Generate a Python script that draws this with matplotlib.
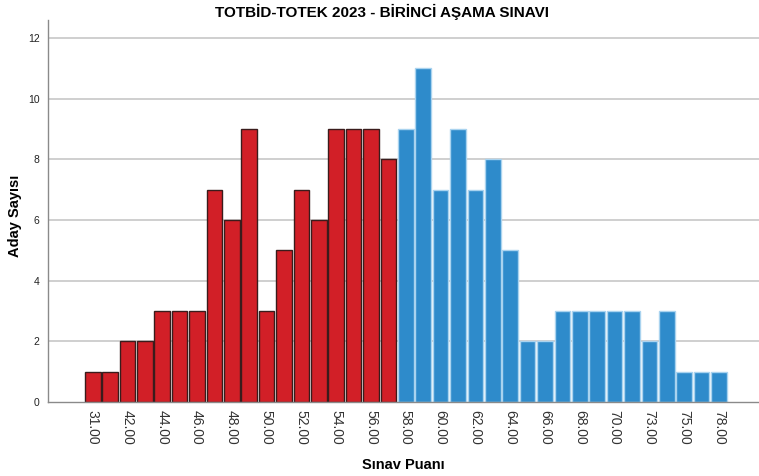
import matplotlib.pyplot as plt
import numpy as np

plt.rcParams['font.family'] = ['Liberation Sans', 'DejaVu Sans']

# aday sayilari (kirmizi: 58 alti, mavi: 58 ve ustu)
kirmizi_sayilar = [1, 1, 2, 2, 3, 3, 3, 7, 6, 9, 3, 5, 7, 6, 9, 9, 9, 8]
mavi_sayilar = [9, 11, 7, 9, 7, 8, 5, 2, 2, 3, 3, 3, 3, 3, 2, 3, 1, 1, 1]
etiketler = ["31.00", "42.00", "44.00", "46.00", "48.00", "50.00", "52.00",
             "54.00", "56.00", "58.00", "60.00", "62.00", "64.00", "66.00",
             "68.00", "70.00", "73.00", "75.00", "78.00"]
y_ticks = [0, 2, 4, 6, 8, 10, 12]

fig = plt.figure(figsize=(7.59, 4.76), dpi=100)
ax = fig.add_axes([0.0632, 0.1555, 0.9368, 0.8025])

n_k = len(kirmizi_sayilar)
x_k = np.arange(n_k)
x_m = np.arange(n_k, n_k + len(mavi_sayilar))

for y in y_ticks[1:]:
    ax.axhline(y, color='#cfcfcf', linewidth=1.4, zorder=0)

ax.bar(x_k, kirmizi_sayilar, width=0.9, color='#d21f27', edgecolor='#3a1c1c',
       linewidth=1.0, zorder=2)
ax.bar(x_m, mavi_sayilar, width=0.9, color='#2e8bcb', edgecolor='#a9d3ef',
       linewidth=1.0, zorder=2)

ax.set_xlim(-2.57, 38.3)
ax.set_ylim(0, 12.6)
ax.set_yticks(y_ticks)
ax.set_yticklabels([str(v) for v in y_ticks], fontsize=7.5, color='#222222')
ax.set_xticks(np.arange(0, n_k + len(mavi_sayilar), 2))
ax.set_xticklabels(etiketler, rotation=270, fontsize=10, color='#333333')
ax.tick_params(axis='both', length=0, pad=6)

for s in ['top', 'right']:
    ax.spines[s].set_visible(False)
for s in ['left', 'bottom']:
    ax.spines[s].set_color('#8a8a8a')
    ax.spines[s].set_linewidth(1.0)

fig.text(0.503, 0.975, "TOTBİD-TOTEK 2023 - BİRİNCİ AŞAMA SINAVI", ha='center',
         va='center', fontsize=11, fontweight='bold')
fig.text(0.531, 0.023, "Sınav Puanı", ha='center', va='center', fontsize=10.5,
         fontweight='bold')
fig.text(0.02, 0.546, "Aday Sayısı", ha='center', va='center', rotation=90,
         fontsize=10.5, fontweight='bold')

fig.savefig('out.png', dpi=100)
